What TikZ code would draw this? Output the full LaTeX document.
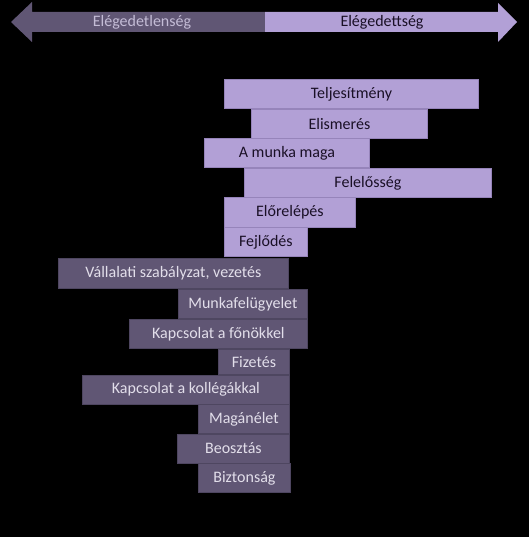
\documentclass[tikz,border=0pt]{standalone}
\usepackage{fontspec}
\setmainfont{Carlito}
\definecolor{lightp}{RGB}{178,160,214}
\definecolor{lightpb}{RGB}{150,132,186}
\definecolor{darkp}{RGB}{96,86,116}
\definecolor{darkpb}{RGB}{78,70,96}
\definecolor{darktxt}{RGB}{26,16,38}
\definecolor{lighttxt}{RGB}{226,222,234}
\definecolor{arrtxt}{RGB}{196,188,214}
\tikzset{
  barbase/.style={rectangle, inner sep=0pt, line width=0.8pt, font=\fontsize{16}{19}\selectfont},
  lbar/.style={barbase, fill=lightp, draw=lightpb, text=darktxt},
  dbar/.style={barbase, fill=darkp, draw=darkpb, text=lighttxt},
  lab/.style={inner sep=0pt, font=\fontsize{16}{19}\selectfont}
}
\newcommand{\mybar}[6]{% style, name, x1, y1, x2, y2 ... text via #6? 
}
\begin{document}
\begin{tikzpicture}[x=1pt,y=-1pt]
\fill[black] (0,0) rectangle (529,537);
\useasboundingbox (0,0) rectangle (529,537);
% arrow
\fill[darkp] (11,22) -- (32,2) -- (32,12) -- (265,12) -- (265,32) -- (32,32) -- (32,42) -- cycle;
\fill[lightp] (265,12) -- (498,12) -- (498,3) -- (517,22) -- (498,42) -- (498,32) -- (265,32) -- cycle;
\node[lab, text=arrtxt] (dis) at (142,22) {Elégedetlenség};
\node[lab, text=darktxt] (sat) at (382,22) {Elégedettség};
% light bars
\node[lbar, minimum width=254pt, minimum height=29pt, anchor=north west] (b1) at (224,79.5) {Teljesítmény};
\node[lbar, minimum width=176pt, minimum height=29pt, anchor=north west] (b2) at (251,109) {Elismerés};
\node[lbar, minimum width=165pt, minimum height=29pt, anchor=north west] (b3) at (204,138.5) {A munka maga};
\node[lbar, minimum width=247pt, minimum height=29pt, anchor=north west] (b4) at (244,168) {Felelősség};
\node[lbar, minimum width=131pt, minimum height=29pt, anchor=north west] (b5) at (224,197.5) {Előrelépés};
\node[lbar, minimum width=83pt, minimum height=29pt, anchor=north west] (b6) at (224,227) {Fejlődés};
% dark bars
\node[dbar, minimum width=230pt, minimum height=30pt, anchor=north west] (d1) at (58,258) {Vállalati szabályzat, vezetés};
\node[dbar, minimum width=129pt, minimum height=29pt, anchor=north west] (d2) at (178,289) {Munkafelügyelet};
\node[dbar, minimum width=178pt, minimum height=29pt, anchor=north west] (d3) at (129,319) {Kapcsolat a főnökkel};
\node[dbar, minimum width=71pt, minimum height=25pt, anchor=north west] (d4) at (218,349) {Fizetés};
\node[dbar, minimum width=207pt, minimum height=29pt, anchor=north west] (d5) at (82,374.5) {Kapcsolat a kollégákkal};
\node[dbar, minimum width=91pt, minimum height=29pt, anchor=north west] (d6) at (198,404) {Magánélet};
\node[dbar, minimum width=112pt, minimum height=29pt, anchor=north west] (d7) at (177,433.5) {Beosztás};
\node[dbar, minimum width=92pt, minimum height=29pt, anchor=north west] (d8) at (198,463) {Biztonság};
\end{tikzpicture}
\end{document}
